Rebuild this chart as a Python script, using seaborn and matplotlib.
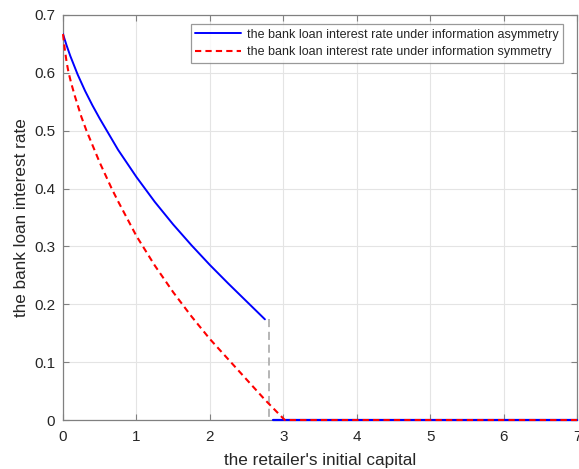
import matplotlib
matplotlib.use("Agg")
import matplotlib.pyplot as plt
import pandas as pd
import seaborn as sns

# Bank loan interest rate vs. retailer's initial capital
x_asym = [0.0, 0.05, 0.1, 0.2, 0.3, 0.4, 0.5, 0.75, 1.0, 1.25, 1.5, 1.75, 2.0, 2.25, 2.5, 2.75]
r_asym = [0.667, 0.647, 0.629, 0.597, 0.569, 0.544, 0.521, 0.467, 0.420, 0.377, 0.338,
          0.302, 0.268, 0.236, 0.205, 0.174]
x_asym_zero = [2.856, 7.0]
r_asym_zero = [0.0, 0.0]

x_sym = [0.0, 0.025, 0.05, 0.075, 0.11, 0.16, 0.25, 0.32, 0.5, 0.663, 0.75, 1.0, 1.25,
         1.5, 1.75, 2.0, 2.25, 2.5, 2.75, 3.02, 7.0]
r_sym = [0.667, 0.640, 0.618, 0.601, 0.583, 0.5605, 0.524, 0.500, 0.445, 0.400, 0.378,
         0.318, 0.267, 0.221, 0.179, 0.140, 0.105, 0.070, 0.035, 0.0, 0.0]

# threshold marker joining the end of the asymmetric curve to zero
x_threshold = [2.805, 2.805]
r_threshold = [0.174, 0.0]

x_ticks = [0, 1, 2, 3, 4, 5, 6, 7]
y_ticks = [0, 0.1, 0.2, 0.3, 0.4, 0.5, 0.6, 0.7]
y_tick_labels = ["0", "0.1", "0.2", "0.3", "0.4", "0.5", "0.6", "0.7"]

label_asym = "the bank loan interest rate under information asymmetry"
label_sym = "the bank loan interest rate under information symmetry"

sns.set_style("ticks")
plt.rcParams["font.family"] = ["Liberation Sans", "DejaVu Sans"]

fig = plt.figure(figsize=(5.79, 4.69), dpi=100)
ax = fig.add_axes([63 / 579, 1 - 420 / 469, 514 / 579, 405 / 469])

df_asym = pd.DataFrame({"x": x_asym, "r": r_asym})
df_asym_zero = pd.DataFrame({"x": x_asym_zero, "r": r_asym_zero})
df_sym = pd.DataFrame({"x": x_sym, "r": r_sym})
df_thr = pd.DataFrame({"x": x_threshold, "r": r_threshold})

common = dict(estimator=None, errorbar=None, sort=False)

sns.lineplot(data=df_thr, x="x", y="r", ax=ax, color="#b0b0b0", lw=1.3,
             zorder=2, **common)
ax.lines[-1].set_dashes((4.5, 2.6))

sns.lineplot(data=df_asym, x="x", y="r", ax=ax, color="#0000ff", lw=1.4,
             label=label_asym, zorder=3, **common)
sns.lineplot(data=df_asym_zero, x="x", y="r", ax=ax, color="#0000ff", lw=1.6,
             zorder=5, **common)
ax.lines[-1].set_clip_on(False)
sns.lineplot(data=df_sym, x="x", y="r", ax=ax, color="#ff0000", lw=1.5,
             label=label_sym, zorder=6, **common)
ax.lines[-1].set_dashes((3.0, 2.0))
ax.lines[-1].set_clip_on(False)

ax.set_xlim(0, 7)
ax.set_ylim(0, 0.7)
ax.set_xticks(x_ticks)
ax.set_yticks(y_ticks)
ax.set_yticklabels(y_tick_labels)

ax.grid(True, color="#e4e4e4", lw=0.8)
ax.set_axisbelow(True)
for s in ax.spines.values():
    s.set_visible(True)
    s.set_color("#808080")
    s.set_linewidth(0.9)
ax.tick_params(axis="both", direction="in", length=4, width=0.8, color="#808080",
               labelsize=11, labelcolor="#262626", top=True, right=True)
ax.tick_params(axis="x", pad=7.5)
ax.tick_params(axis="y", pad=5.5)

ax.set_xlabel("the retailer's initial capital", fontsize=12.3, color="#262626", labelpad=6.5)
ax.set_ylabel("the bank loan interest rate", fontsize=12.3, color="#262626", labelpad=4)

leg = ax.legend(loc="upper right", bbox_to_anchor=((563 - 63) / 514, (420 - 24.3) / 405),
                borderaxespad=0, fontsize=9, frameon=True, fancybox=False,
                edgecolor="#808080", handlelength=3.7, handletextpad=0.45,
                borderpad=0.35, labelspacing=0.45)
leg.get_frame().set_linewidth(0.9)
for t in leg.get_texts():
    t.set_color("#262626")

fig.savefig("out.png", dpi=100)
